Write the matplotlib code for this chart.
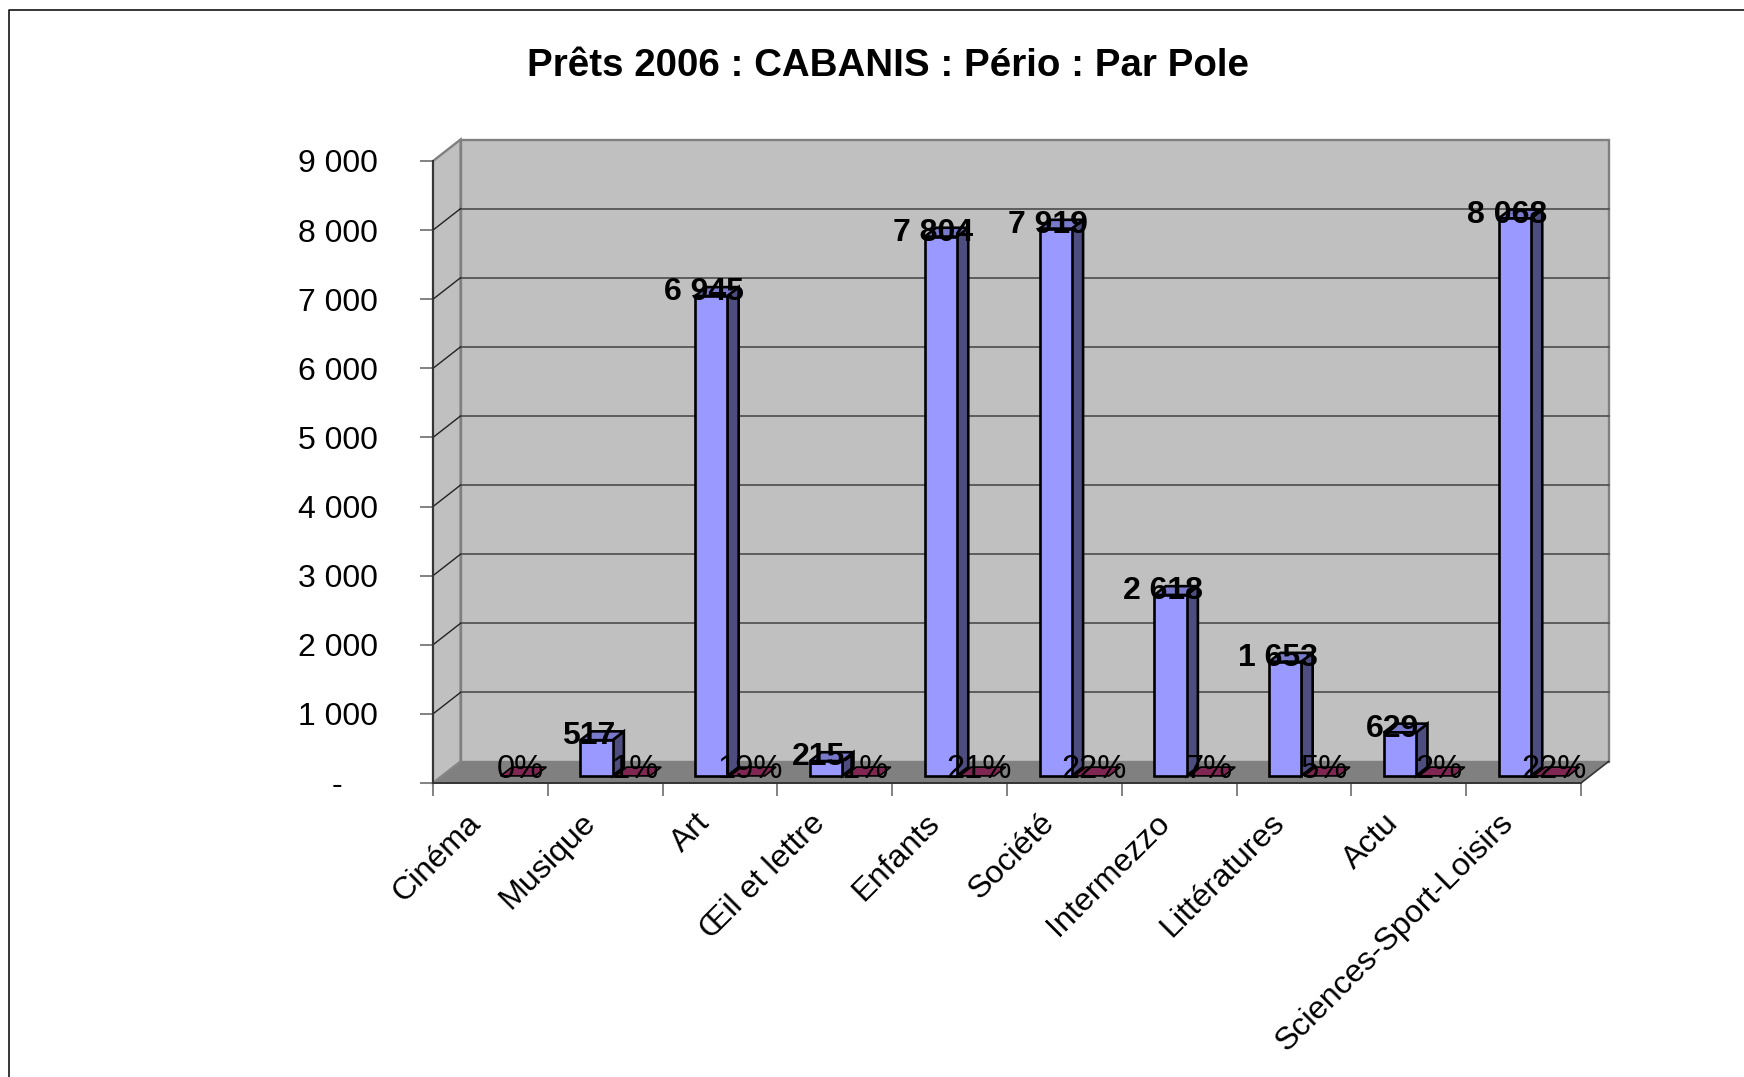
#!/usr/bin/env python3
"""Prets 2006 : 3D-look clustered bars drawn on plain matplotlib axes."""
import numpy as np
import matplotlib
matplotlib.use("Agg")
import matplotlib.pyplot as plt
from matplotlib.lines import Line2D
from matplotlib.transforms import ScaledTranslation

plt.rcParams['font.family'] = ['Liberation Sans', 'DejaVu Sans']

categories = ['Cinéma', 'Musique', 'Art', 'Œil et lettre', 'Enfants', 'Société',
              'Intermezzo', 'Littératures', 'Actu', 'Sciences-Sport-Loisirs']
prets = [0, 517, 6945, 215, 7804, 7919, 2618, 1653, 629, 8068]
prets_labels = ['', '517', '6 945', '215', '7 804', '7 919', '2 618', '1 653', '629', '8 068']
parts = [0, 1, 19, 1, 21, 22, 7, 5, 2, 22]
y_ticks = [0, 1000, 2000, 3000, 4000, 5000, 6000, 7000, 8000, 9000]
y_labels = ['-    ', '1 000', '2 000', '3 000', '4 000', '5 000', '6 000', '7 000', '8 000', '9 000']

W, H = 1744, 1077
YMAX = 9000
# depth of the fake 3D box, in data units
DX = 0.24
DY = 311
BAR_W = 0.28
BAR_SHIFT = -0.015
Z0, Z1 = 0.33, 0.74


def shift(x, y, z):
    return x + DX * z, y + DY * z


def face(ax, pts, color, zorder, lw=1.9, edge='black'):
    ax.fill([p[0] for p in pts], [p[1] for p in pts], facecolor=color, edgecolor=edge,
            linewidth=lw, zorder=zorder, clip_on=False, joinstyle='miter')


def bar_3d(ax, x0, x1, v, zorder):
    a = shift(x0, 0, Z0)
    b = shift(x1, 0, Z0)
    c = shift(x1, v, Z0)
    d = shift(x0, v, Z0)
    e = shift(x1, 0, Z1)
    f = shift(x1, v, Z1)
    g = shift(x0, v, Z1)
    face(ax, [b, e, f, c], '#4d4d80', zorder)
    face(ax, [d, c, f, g], '#7a7acc', zorder)
    face(ax, [a, b, c, d], '#9999ff', zorder)


def main():
    fig = plt.figure(figsize=(W / 100, H / 100), dpi=100)
    ax = fig.add_axes([433 / W, 1 - 783 / H, (1581 - 433) / W, (783 - 161) / H])
    ax.patch.set_alpha(0)
    ax.set_xlim(0, len(categories))
    ax.set_ylim(0, YMAX)

    # walls and floor
    n = len(categories)
    back = [shift(0, 0, 1), shift(n, 0, 1), shift(n, YMAX, 1), shift(0, YMAX, 1)]
    face(ax, back, '#c0c0c0', 1, lw=1.7, edge='#808080')
    side = [(0, 0), shift(0, 0, 1), shift(0, YMAX, 1), (0, YMAX)]
    face(ax, side, '#c0c0c0', 1, lw=1.7, edge='#808080')
    floor = [(0, 0), (n, 0), shift(n, 0, 1), shift(0, 0, 1)]
    ax.fill([p[0] for p in floor], [p[1] for p in floor], color='#808080', zorder=2, clip_on=False, lw=0)
    for v in y_ticks[1:-1]:
        x0, y0 = shift(0, v, 1)
        x1, y1 = shift(n, v, 1)
        ax.plot([x0, x1], [y0, y1], color='#555555', lw=1.3, zorder=2, clip_on=False)
        ax.plot([0, x0], [v, y0], color='#222222', lw=1, zorder=2, clip_on=False)
    ax.plot([n, n + DX], [0, DY], color='#333333', lw=1.2, zorder=3, clip_on=False)
    ax.plot([0, DX], [0, DY], color='#888888', lw=1, zorder=3, clip_on=False)

    # back to front, left to right, so the overlaps stack like the original
    for i, (v, p) in enumerate(zip(prets, parts)):
        center = i + 0.5
        if v > 0:
            bar_3d(ax, center - BAR_W + BAR_SHIFT, center + BAR_SHIFT, v, 4 + i)
        x0, x1 = center + 0.01, center + BAR_W + 0.03
        face(ax, [shift(x0, 0, Z0), shift(x1, 0, Z0), shift(x1, 0, Z1), shift(x0, 0, Z1)],
             '#7f2652', 4 + i, lw=1.2)

    for i, (v, lab, p) in enumerate(zip(prets, prets_labels, parts)):
        center = i + 0.5
        if lab:
            ax.annotate(lab, (center - BAR_W / 2, v), xytext=(0, 7.8), textcoords='offset points',
                        ha='center', va='center', fontsize=23, fontweight='bold', color='black',
                        zorder=30, annotation_clip=False)
        ax.annotate(f'{p}%', (center + BAR_W / 2, 0), xytext=(10, 9.5), textcoords='offset points',
                    ha='center', va='center', fontsize=23.5, color='black', zorder=30,
                    annotation_clip=False)

    for s in ['top', 'right']:
        ax.spines[s].set_visible(False)
    for s in ['left', 'bottom']:
        ax.spines[s].set_color('#333333')
        ax.spines[s].set_linewidth(1.4)
        ax.spines[s].set_zorder(3)

    ax.set_yticks(y_ticks, y_labels, fontsize=23)
    ax.tick_params(axis='y', length=9.4, width=1.3, color='#777777', pad=30)
    ax.set_xticks(np.arange(n + 1), minor=True)
    ax.tick_params(axis='x', which='minor', length=9.4, width=1.3, color='#777777')
    ax.set_xticks(np.arange(n) + 0.5, categories, fontsize=23.2, rotation=45, ha='right',
                  rotation_mode='anchor')
    ax.tick_params(axis='x', which='major', length=0, pad=18)
    nudge = ScaledTranslation(-25 / 100, 0, fig.dpi_scale_trans)
    for lab in ax.get_xticklabels():
        lab.set_transform(lab.get_transform() + nudge)

    fig.text(888 / W, 1 - 66 / H, 'Prêts 2006 : CABANIS : Pério : Par Pole', ha='center',
             va='center', fontsize=27.75, fontweight='bold')

    # chart area border, cut by the page on the right and at the bottom
    fig.add_artist(Line2D([1, 9 / W, 9 / W], [1 - 10 / H, 1 - 10 / H, 0],
                          color='black', lw=1.1))
    fig.savefig('out.png', dpi=100)
    plt.close(fig)


if __name__ == "__main__":
    main()
